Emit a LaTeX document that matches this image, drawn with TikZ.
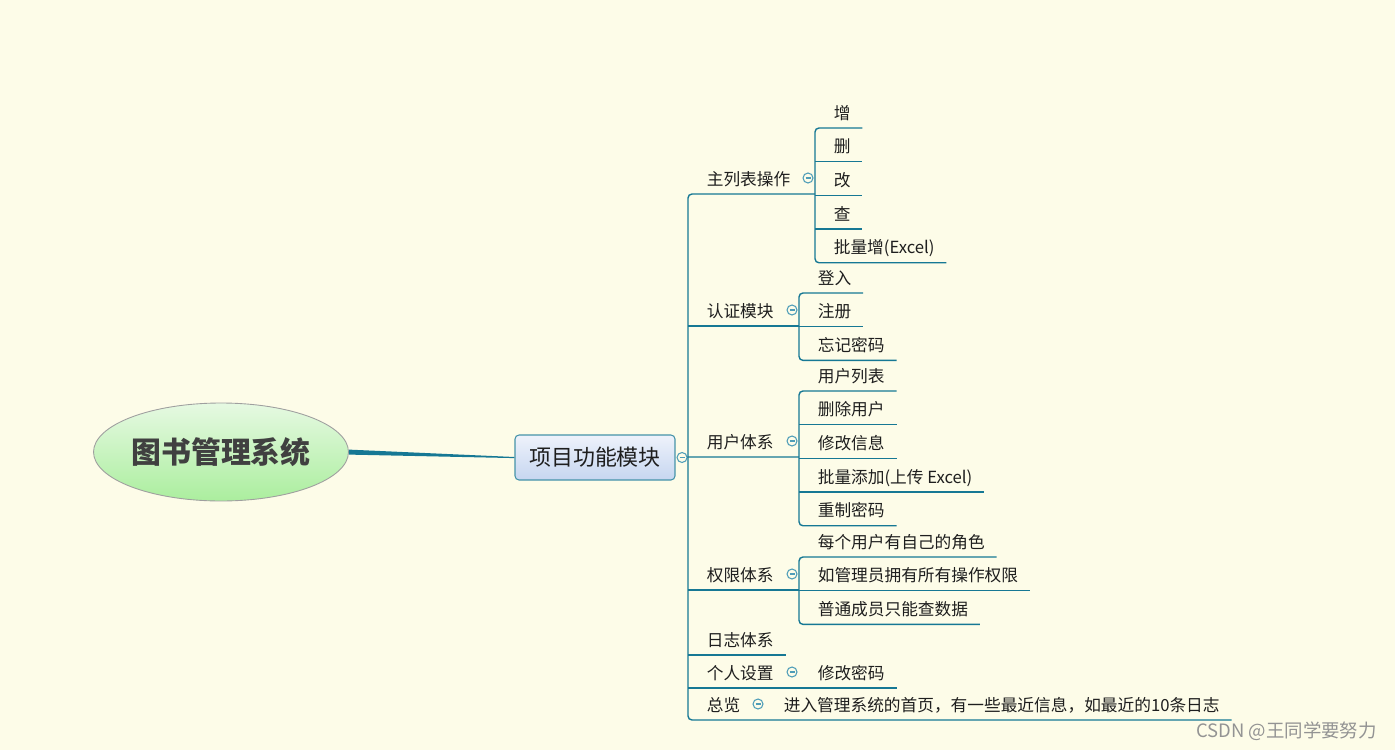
\documentclass[tikz,border=0pt]{standalone}
\usepackage{fontspec}
\setmainfont{Noto Sans CJK SC}
\usepackage{xcolor}
\usetikzlibrary{shapes.geometric,calc,positioning}

\definecolor{paper}{HTML}{FDFCE8}
\definecolor{branchcol}{HTML}{167894}
\definecolor{knobcol}{HTML}{4E9DB8}
\definecolor{inkcol}{HTML}{1E1E1E}
\definecolor{roottop}{HTML}{E6F9E2}
\definecolor{rootbot}{HTML}{ABEE9E}
\definecolor{maintop}{HTML}{EEF2FB}
\definecolor{mainbot}{HTML}{C6D6F0}

\tikzset{
  topic/.style={anchor=south west, inner xsep=0pt, inner ysep=0pt, minimum height=0.66cm,
    text height=0.95em, text depth=0.05em, text=inkcol, font=\fontsize{9.5}{11}\selectfont,
    execute at begin node={\hspace*{10.5pt}}, execute at end node={\hspace*{6.6pt}}},
  under/.style={below=0pt of #1.south west, anchor=north west},
  branch/.style={draw=branchcol, line width=0.8pt},
  knob/.style={circle, draw=knobcol, line width=0.6pt, fill=paper, minimum size=0.2cm, inner sep=0pt,
    path picture={\draw[knobcol, line width=0.6pt] ([xshift=-0.05cm]path picture bounding box.center) -- ([xshift=0.05cm]path picture bounding box.center);}},
}

\begin{document}
\begin{tikzpicture}[x=0.02cm, y=-0.02cm]
	\fill[paper] (0,0) rectangle (1395,750);
	\useasboundingbox (0,0) rectangle (1395,750);
	
	\node[ellipse, draw=gray!75, line width=0.5pt, top color=roottop, bottom color=rootbot, minimum width=5.1cm, minimum height=1.96cm, inner sep=0pt, text=black!75, font=\fontsize{17}{20}\selectfont\bfseries](root) at (221,452) {图书管理系统};
	\node[draw=branchcol!80, line width=0.6pt, rounded corners=0.08cm, top color=maintop, bottom color=mainbot, minimum width=3.2cm, minimum height=0.9cm, text=inkcol, font=\fontsize{12.5}{15}\selectfont](main) at (595,457.5) {项目功能模块};
	\node[knob, right=0.02cm of main](f0) {};
	
	\fill[branchcol] ($(root.east)+(0,-2.4)$) .. controls ($(root.east)!0.5!(main.west)+(0,-1.2)$) .. ($(main.west)+(0,-0.5)$) -- ($(main.west)+(0,0.6)$) .. controls ($(root.east)!0.5!(main.west)+(0,2)$) .. ($(root.east)+(0,2.6)$) -- cycle;
	
	% first level
	\node[topic](p1) at (688,194) {主列表操作};
	\node[topic](p2) at (688,326) {认证模块};
	\node[topic](p3) at (688,457) {用户体系};
	\node[topic](p4) at (688,590) {权限体系};
	\node[topic](p5) at (688,655) {日志体系};
	\node[topic](p6) at (688,688) {个人设置};
	\node[topic](p7) at (688,720) {总览};
	
	\coordinate (b1) at (815,194);
	\coordinate (b2) at (799,326);
	\coordinate (b3) at (799,457);
	\coordinate (b4) at (799,590);
	
	% second level
	\node[topic](c11) at ($(b1)+(0,-66)$) {增};
	\node[topic, under=c11](c12) {删};
	\node[topic, under=c12](c13) {改};
	\node[topic, under=c13](c14) {查};
	\node[topic, under=c14](c15) {批量增(Excel)};
	
	\node[topic](c21) at ($(b2)+(0,-33)$) {登入};
	\node[topic, under=c21](c22) {注册};
	\node[topic, under=c22](c23) {忘记密码};
	
	\node[topic](c31) at ($(b3)+(0,-66)$) {用户列表};
	\node[topic, under=c31](c32) {删除用户};
	\node[topic, under=c32](c33) {修改信息};
	\node[topic, under=c33](c34) {批量添加(上传 Excel)};
	\node[topic, under=c34](c35) {重制密码};
	
	\node[topic](c41) at ($(b4)+(0,-33)$) {每个用户有自己的角色};
	\node[topic, under=c41](c42) {如管理员拥有所有操作权限};
	\node[topic, under=c42](c43) {普通成员只能查数据};
	
	\node[topic](c61) at (799,688) {修改密码};
	\node[topic](c71) at (765,720) {进入管理系统的首页，有一些最近信息，如最近的10条日志};
	
	% lines
	\draw[branch, rounded corners=0.08cm] (b1) -- (p1.south west) -- (p7.south west) -- (c71.south east);
	\draw[branch] (f0) -- (p3.south west) -- (b3);
	\draw[branch] (p2.south west) -- (b2);
	\draw[branch] (p4.south west) -- (b4);
	\draw[branch] (p5.south west) -- (p5.south east);
	\draw[branch] (p6.south west) -- (c61.south east);
	
	\draw[branch, rounded corners=0.08cm] (c11.south east) -- (c11.south west) -- (c15.south west) -- (c15.south east);
	\draw[branch, rounded corners=0.08cm] (c21.south east) -- (c21.south west) -- (c23.south west) -- (c23.south east);
	\draw[branch, rounded corners=0.08cm] (c31.south east) -- (c31.south west) -- (c35.south west) -- (c35.south east);
	\draw[branch, rounded corners=0.08cm] (c41.south east) -- (c41.south west) -- (c43.south west) -- (c43.south east);
	\foreach \n in {c12,c13,c14,c22,c32,c33,c34,c42}
		\draw[branch] (\n.south west) -- (\n.south east);
	
	\node[knob](f1) at ($(b1)+(-7,-16)$) {};
	\node[knob](f2) at ($(b2)+(-7,-16)$) {};
	\node[knob](f3) at ($(b3)+(-7,-16)$) {};
	\node[knob](f4) at ($(b4)+(-7,-16)$) {};
	\node[knob](f6) at ($(c61.south west)+(-7,-16)$) {};
	\node[knob](f7) at ($(c71.south west)+(-7,-16)$) {};
	
	\node[anchor=east, text=gray!85, font=\fontsize{10.5}{12}\selectfont](mark) at (1383,731) {CSDN @王同学要努力};
\end{tikzpicture}
\end{document}
